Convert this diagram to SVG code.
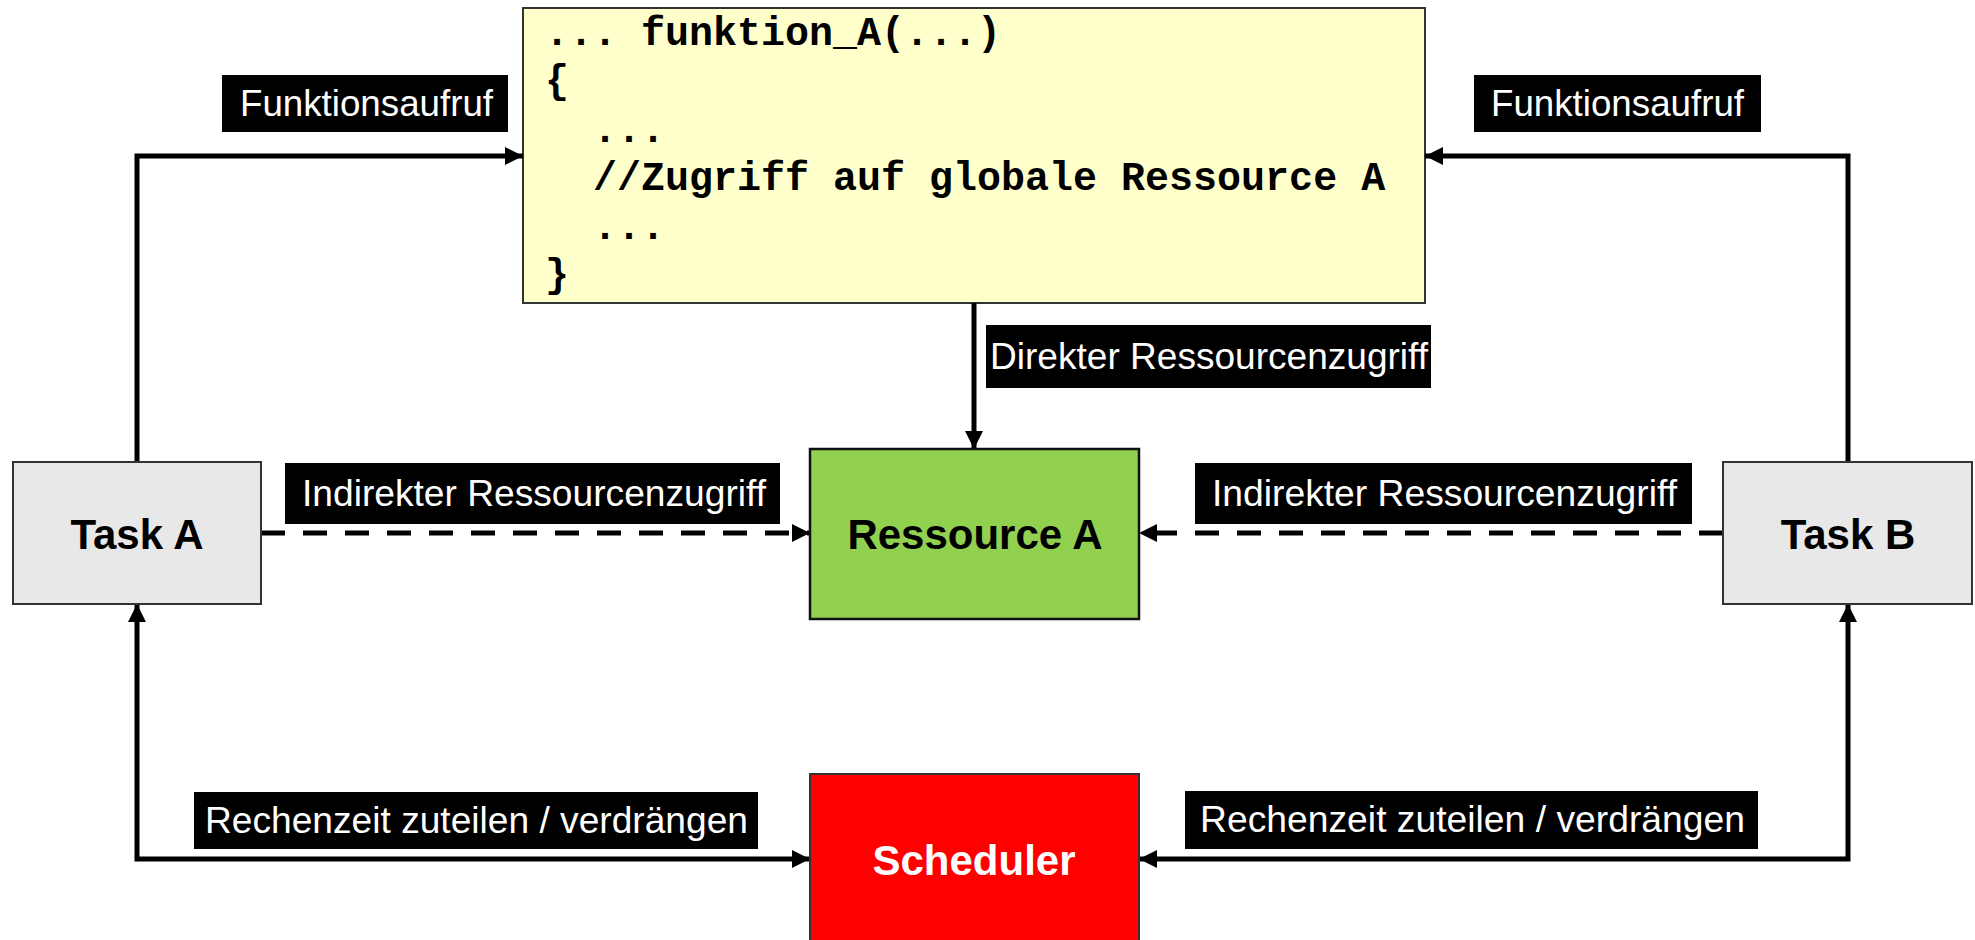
<svg xmlns="http://www.w3.org/2000/svg" width="1975" height="940" viewBox="0 0 1975 940">
<style>
.conn{fill:none;stroke:#000;stroke-width:5}
.dash{stroke-dasharray:24 18}
.lbl{fill:#000}
.lt{font-family:"Liberation Sans",Arial,sans-serif;font-size:36px;fill:#fff}
.nt{font-family:"Liberation Sans",Arial,sans-serif;font-size:42px;font-weight:bold;text-anchor:middle}
.code{font-family:"Liberation Mono","Courier New",monospace;font-size:40px;font-weight:bold;fill:#000}
</style>
<defs>
<marker id="ah" markerUnits="userSpaceOnUse" markerWidth="18" markerHeight="18" viewBox="0 0 17 17" refX="17" refY="8.5" orient="auto-start-reverse">
<path d="M0,0 L17,8.5 L0,17 z" fill="#000" stroke="none"/>
</marker>
</defs>
<rect width="1975" height="940" fill="#fff"/>
<g id="code-box">
<rect x="523" y="8" width="902" height="295" fill="#FFFFCC" stroke="#333" stroke-width="2"/>
<text class="code" x="545" y="45" xml:space="preserve">... funktion_A(...)</text>
<text class="code" x="545" y="93">{</text>
<text class="code" x="545" y="142" xml:space="preserve">  ...</text>
<text class="code" x="545" y="190" xml:space="preserve">  //Zugriff auf globale Ressource A</text>
<text class="code" x="545" y="239" xml:space="preserve">  ...</text>
<text class="code" x="545" y="287">}</text>
</g>
<g id="connectors">
<path class="conn" d="M137,462 V156 H523" marker-end="url(#ah)"/>
<path class="conn" d="M1848,462 V156 H1425" marker-end="url(#ah)"/>
<path class="conn" d="M974,303 V449" marker-end="url(#ah)"/>
<path class="conn dash" d="M261,533 H810" marker-end="url(#ah)"/>
<path class="conn dash" d="M1723,533 H1139" marker-end="url(#ah)"/>
<path class="conn" d="M810,859 H137 V604" marker-start="url(#ah)" marker-end="url(#ah)"/>
<path class="conn" d="M1139,859 H1848 V604" marker-start="url(#ah)" marker-end="url(#ah)"/>
</g>
<g id="labels">
<rect class="lbl" x="222" y="75" width="286" height="57"/>
<text class="lt" x="240" y="116" textLength="253" lengthAdjust="spacingAndGlyphs">Funktionsaufruf</text>
<rect class="lbl" x="1474" y="75" width="287" height="57"/>
<text class="lt" x="1491" y="116" textLength="253" lengthAdjust="spacingAndGlyphs">Funktionsaufruf</text>
<rect class="lbl" x="986" y="325" width="445" height="63"/>
<text class="lt" x="990" y="369" textLength="438" lengthAdjust="spacingAndGlyphs">Direkter Ressourcenzugriff</text>
<rect class="lbl" x="285" y="463" width="495" height="61"/>
<text class="lt" x="302" y="506" textLength="464" lengthAdjust="spacingAndGlyphs">Indirekter Ressourcenzugriff</text>
<rect class="lbl" x="1195" y="463" width="497" height="61"/>
<text class="lt" x="1212" y="506" textLength="465" lengthAdjust="spacingAndGlyphs">Indirekter Ressourcenzugriff</text>
<rect class="lbl" x="194" y="792" width="564" height="57"/>
<text class="lt" x="205" y="833" textLength="543" lengthAdjust="spacingAndGlyphs">Rechenzeit zuteilen / verdrängen</text>
<rect class="lbl" x="1185" y="791" width="573" height="58"/>
<text class="lt" x="1200" y="832" textLength="545" lengthAdjust="spacingAndGlyphs">Rechenzeit zuteilen / verdrängen</text>
</g>
<g id="task-a">
<rect x="13" y="462" width="248" height="142" fill="#E8E8E8" stroke="#333" stroke-width="2"/>
<text class="nt" x="137" y="549">Task A</text>
</g>
<g id="task-b">
<rect x="1723" y="462" width="249" height="142" fill="#E8E8E8" stroke="#333" stroke-width="2"/>
<text class="nt" x="1848" y="549">Task B</text>
</g>
<g id="ressource-a">
<rect x="810" y="449" width="329" height="170" fill="#92D050" stroke="#111" stroke-width="2.5"/>
<text class="nt" x="975" y="549">Ressource A</text>
</g>
<g id="scheduler">
<rect x="810" y="774" width="329" height="170" fill="#FF0000" stroke="#333" stroke-width="2"/>
<text class="nt" x="974" y="875" fill="#fff">Scheduler</text>
</g>
</svg>
